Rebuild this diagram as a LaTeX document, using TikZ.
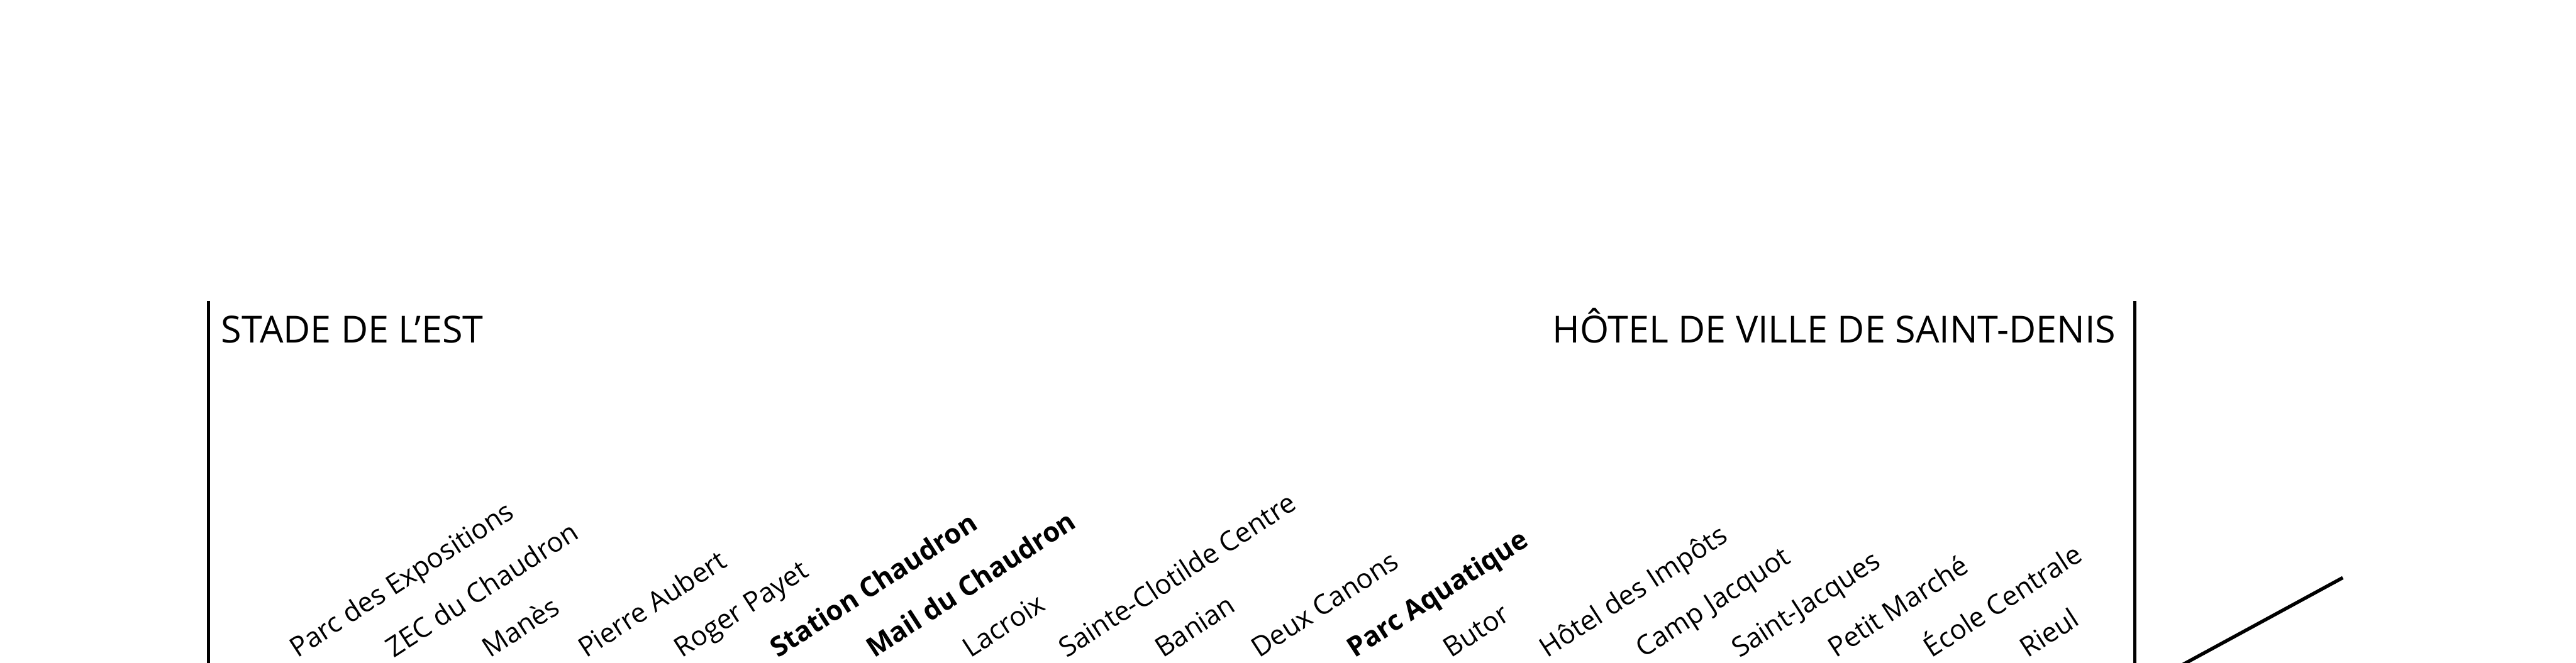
\documentclass[tikz,border=0pt]{standalone}
\usepackage{fontspec}
\setmainfont{Open Sans}

\begin{document}
\begin{tikzpicture}[
  terminus/.style={inner sep=0pt, font=\fontsize{17.2}{20}\selectfont},
  station/.style={rotate=33, anchor=base west, inner sep=0pt,
                  font=\fontsize{12.6}{15}\selectfont},
  bar/.style={line width=1.6pt}]

  \useasboundingbox (0,0) rectangle (41.75,10.75);
  \clip (0,0) rectangle (41.75,10.75);

  % end bars of the line
  \coordinate (wtop) at (3.38,5.87);
  \coordinate (wbot) at (3.38,-0.5);
  \coordinate (etop) at (34.60,5.87);
  \coordinate (ebot) at (34.60,-0.5);
  \draw[bar] (wtop) -- (wbot);
  \draw[bar] (etop) -- (ebot);

  \node[terminus, anchor=base west] (west) at ([xshift=0.2cm, yshift=-0.68cm]wtop) {STADE DE L’EST};
  \node[terminus, anchor=base east] (east) at ([xshift=-0.3cm, yshift=-0.68cm]etop) {HÔTEL DE VILLE DE SAINT-DENIS};

  % stops
  \foreach \stn [count=\i from 0] in {Parc des Expositions, ZEC du Chaudron, Manès,
      Pierre Aubert, Roger Payet, \textbf{Station Chaudron}, \textbf{Mail du Chaudron},
      Lacroix, Sainte-Clotilde Centre, Banian, Deux Canons, \textbf{Parc Aquatique},
      Butor, Hôtel des Impôts, Camp Jacquot, Saint-Jacques, Petit Marché,
      École Centrale, Rieul}
    \node[station] (s\i) at (4.82+1.558*\i, 0.07) {\stn};

  % branch
  \coordinate (bstart) at (34.97,-0.25);
  \coordinate (bend) at (37.97,1.38);
  \draw[bar] (bstart) -- (bend);
\end{tikzpicture}
\end{document}
